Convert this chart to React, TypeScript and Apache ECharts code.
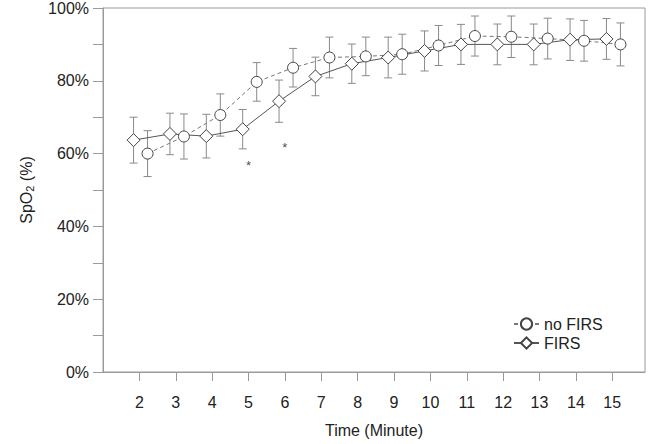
import { useEffect, useRef } from "react";
import * as echarts from "echarts";

// Time points (minutes) and tick labels
const minutes = [2, 3, 4, 5, 6, 7, 8, 9, 10, 11, 12, 13, 14, 15];
const xTickValues = [2, 3, 4, 5, 6, 7, 8, 9, 10, 11, 12, 13, 14, 15];
const yTickValues = [0, 10, 20, 30, 40, 50, 60, 70, 80, 90, 100];

// SpO2 (%) mean and error (+/-) for each group
const noFirsMean = [60.0, 64.7, 70.6, 79.7, 83.6, 86.4, 86.7, 87.3, 89.7, 92.3, 92.1, 91.6, 91.0, 90.0];
const noFirsErr = [6.3, 6.2, 5.8, 5.3, 5.3, 5.6, 5.3, 5.5, 5.5, 5.5, 5.7, 5.6, 5.6, 5.9];
const firsMean = [63.7, 65.4, 64.8, 66.7, 74.4, 81.2, 84.7, 86.4, 88.2, 90.0, 90.0, 90.0, 91.3, 91.5];
const firsErr = [6.3, 5.7, 6.0, 5.4, 5.8, 5.3, 5.4, 5.6, 5.5, 5.5, 5.6, 5.6, 5.7, 5.6];

// Significance markers
const sigMinutes = [5, 6];
const sigY = [57.3, 62.2];

const FONT = "'Liberation Sans', Arial, sans-serif";
const DODGE_NO_FIRS = 0.225;
const DODGE_FIRS = -0.16;

function errorBarSeries(name: string, mean: number[], err: number[], dodge: number) {
  return {
    name,
    type: "custom",
    z: 1,
    silent: true,
    encode: { x: 0, y: [1, 2] },
    data: minutes.map((m, i) => [m + dodge, mean[i] - err[i], mean[i] + err[i]]),
    renderItem: (params: any, api: any) => {
      const x = api.value(0);
      const lo = api.coord([x, api.value(1)]);
      const hi = api.coord([x, api.value(2)]);
      const hw = 4;
      const style = { stroke: "#8a8a8a", lineWidth: 1 };
      return {
        type: "group",
        children: [
          { type: "line", shape: { x1: lo[0], y1: lo[1], x2: hi[0], y2: hi[1] }, style },
          { type: "line", shape: { x1: lo[0] - hw, y1: lo[1], x2: lo[0] + hw, y2: lo[1] }, style },
          { type: "line", shape: { x1: hi[0] - hw, y1: hi[1], x2: hi[0] + hw, y2: hi[1] }, style },
        ],
      };
    },
  };
}

export default function App() {
  const ref = useRef<HTMLDivElement>(null);

  useEffect(() => {
    document.body.style.margin = "0";
    if (!ref.current) return;
    const chart = echarts.init(ref.current, null, { renderer: "svg" });
    chart.setOption({
      animation: false,
      backgroundColor: "#ffffff",
      textStyle: { fontFamily: FONT },
      grid: {
        left: 103,
        top: 7,
        right: 8,
        bottom: 72,
        show: true,
        borderColor: "#9a9a9a",
        borderWidth: 1,
      },
      legend: {
        data: ["no FIRS", "FIRS"],
        orient: "vertical",
        left: 508,
        top: 311,
        itemWidth: 25,
        itemHeight: 14,
        itemGap: 3,
        textStyle: { fontSize: 16, color: "#222", fontFamily: FONT },
      },
      xAxis: {
        type: "value",
        min: 1,
        max: 15.9,
        name: "Time (Minute)",
        nameLocation: "middle",
        nameGap: 50,
        nameTextStyle: { fontSize: 16, color: "#222", fontFamily: FONT },
        axisLine: { show: true, lineStyle: { color: "#9a9a9a" } },
        axisTick: { show: true, length: 9, customValues: xTickValues, lineStyle: { color: "#9a9a9a" } },
        axisLabel: {
          customValues: xTickValues,
          margin: 22,
          fontSize: 16,
          color: "#222",
          fontFamily: FONT,
        },
        splitLine: { show: false },
      },
      yAxis: {
        type: "value",
        min: 0,
        max: 100,
        interval: 10,
        name: "SpO{sub|2} (%)",
        nameLocation: "middle",
        nameGap: 68,
        nameTextStyle: {
          fontSize: 16,
          color: "#222",
          fontFamily: FONT,
          rich: { sub: { fontSize: 11, verticalAlign: "bottom", padding: [6, 0, 0, 0], fontFamily: FONT, color: "#222" } },
        },
        axisLine: { show: true, lineStyle: { color: "#9a9a9a" } },
        axisTick: { show: true, length: 10, customValues: yTickValues, lineStyle: { color: "#9a9a9a" } },
        axisLabel: {
          margin: 14,
          fontSize: 16,
          color: "#222",
          fontFamily: FONT,
          formatter: (v: number) => (v % 20 === 0 ? v + "%" : ""),
        },
        splitLine: { show: false },
      },
      series: [
        errorBarSeries("no FIRS err", noFirsMean, noFirsErr, DODGE_NO_FIRS),
        errorBarSeries("FIRS err", firsMean, firsErr, DODGE_FIRS),
        {
          name: "no FIRS",
          type: "line",
          z: 3,
          data: minutes.map((m, i) => [m + DODGE_NO_FIRS, noFirsMean[i]]),
          symbol: "circle",
          symbolSize: 11,
          lineStyle: { color: "#777", width: 1, type: [4, 3] },
          itemStyle: { color: "#ffffff", borderColor: "#444", borderWidth: 1 },
        },
        {
          name: "FIRS",
          type: "line",
          z: 3,
          data: minutes.map((m, i) => [m + DODGE_FIRS, firsMean[i]]),
          symbol: "diamond",
          symbolSize: 13,
          lineStyle: { color: "#555", width: 1 },
          itemStyle: { color: "#ffffff", borderColor: "#444", borderWidth: 1 },
        },
        {
          name: "sig",
          type: "scatter",
          z: 4,
          symbolSize: 1,
          itemStyle: { color: "rgba(0,0,0,0)" },
          data: sigMinutes.map((m, i) => [m, sigY[i]]),
          label: {
            show: true,
            position: "inside",
            formatter: "*",
            fontSize: 13,
            color: "#222",
            offset: [0, 2],
            fontFamily: FONT,
          },
        },
      ],
    });
    return () => chart.dispose();
  }, []);

  return (
    <div
      ref={ref}
      style={{ position: "fixed", left: 0, top: 0, width: 653, height: 444 }}
    />
  );
}
